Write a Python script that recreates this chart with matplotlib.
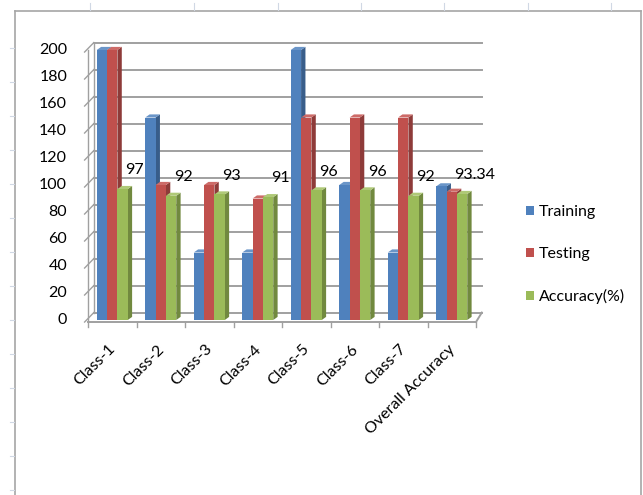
import matplotlib.pyplot as plt
from matplotlib.patches import Polygon, Patch
from matplotlib.lines import Line2D
import numpy as np

# chart values
categories = ["Class-1", "Class-2", "Class-3", "Class-4", "Class-5", "Class-6", "Class-7", "Overall Accuracy"]
training = [200, 150, 50, 50, 200, 100, 50, 99]
testing = [200, 100, 100, 90, 150, 150, 150, 95]
accuracy = [97, 92, 93, 91, 96, 96, 92, 93.34]
acc_labels = ["97", "92", "93", "91", "96", "96", "92", "93.34"]
series_names = ["Training", "Testing", "Accuracy(%)"]
yticks = list(range(0, 201, 20))

plt.rcParams['font.family'] = ['Lato', 'DejaVu Sans']
FS = 11.5

front = ["#4F81BD", "#C0504D", "#9BBB59"]
side = ["#385D8A", "#8E3B39", "#71893F"]
top = ["#6A95C8", "#CD6B68", "#AFC977"]
grid_c = "#A0A0A0"

fig = plt.figure(figsize=(6.43, 4.95), dpi=100)
ax = fig.add_axes([88/643, 1 - 320/495, 388/643, 270/495])
ax.set_xlim(0, len(categories))
ax.set_ylim(0, 200)
ax.axis('off')

# 3d offsets (data units)
wdx, wdy = 0.12, 5.5     # back wall
bdx, bdy = 0.09, 2.3     # bar depth
bw = 0.213

n = len(categories)
# back wall gridlines and left wall ticks
for v in yticks:
    ax.plot([wdx, n + wdx], [v + wdy, v + wdy], color=grid_c, lw=1.4, clip_on=False, zorder=1)
    ax.plot([-0.07, wdx], [v - 1.5, v + wdy], color=grid_c, lw=1.0, clip_on=False, zorder=1)
ax.plot([wdx, wdx], [wdy, 200 + wdy], color=grid_c, lw=1.0, clip_on=False, zorder=1)
ax.plot([0, 0], [0, 200], color=grid_c, lw=1.0, clip_on=False, zorder=1)
# floor
ax.plot([0, n], [-1.5, -1.5], color=grid_c, lw=1.4, clip_on=False, zorder=1)
ax.plot([n, n + wdx], [-1.5, wdy], color=grid_c, lw=1.4, clip_on=False, zorder=1)
for i in range(n + 1):
    ax.plot([i, i], [-1.5, -5], color=grid_c, lw=1.0, clip_on=False, zorder=1)

# 3d columns
all_series = [training, testing, accuracy]
z = 3
for i in range(n):
    x0 = i + 0.5 - 1.5 * bw
    for s, vals in enumerate(all_series):
        v = vals[i]
        xl = x0 + s * bw
        xr = xl + bw
        ax.add_patch(Polygon([(xr, 0), (xr + bdx, bdy), (xr + bdx, v + bdy), (xr, v)],
                             closed=True, facecolor=side[s], edgecolor='none', zorder=z, clip_on=False))
        ax.add_patch(Polygon([(xl, v), (xl + bdx, v + bdy), (xr + bdx, v + bdy), (xr, v)],
                             closed=True, facecolor=top[s], edgecolor='none', zorder=z, clip_on=False))
        ax.bar(xl, v, width=bw, align='edge', color=front[s], edgecolor='none', zorder=z + 0.5, clip_on=False)
        z += 1
    # accuracy value label
    ax.text(x0 + 2.5 * bw + 0.25, accuracy[i] + 14, acc_labels[i], fontsize=FS,
            ha='center', va='center', zorder=100, clip_on=False)

# y tick labels
for v in yticks:
    ax.text(-0.43, v, str(v), fontsize=FS, ha='right', va='center', clip_on=False)

# x category labels
for i, c in enumerate(categories):
    ax.text(i + 0.52, -20, c, fontsize=FS, rotation=45, rotation_mode='anchor',
            ha='right', va='center', clip_on=False)

# legend
handles = [Patch(facecolor=front[s], edgecolor='none') for s in range(3)]
fig.legend(handles, series_names, loc='upper left', bbox_to_anchor=(526/643, 1 - 205/495),
           frameon=False, fontsize=FS, handlelength=0.5, handleheight=0.5,
           handletextpad=0.3, labelspacing=1.75, borderpad=0, borderaxespad=0)

# chart frame and faint sheet ticks outside it
fr = "#A6A6A6"
fig.add_artist(Line2D([15/643, 15/643], [0, 1 - 11/495], color=fr, lw=1.2))
fig.add_artist(Line2D([15/643, 641/643], [1 - 11/495, 1 - 11/495], color=fr, lw=1.2))
fig.add_artist(Line2D([641/643, 641/643], [0, 1 - 11/495], color=fr, lw=1.2))
for xp in [90, 194, 278, 361, 444, 528, 611]:
    fig.add_artist(Line2D([xp/643, xp/643], [1 - 3/495, 1 - 10/495], color="#D0D8E4", lw=0.8))
for yp in np.arange(48, 495, 34):
    fig.add_artist(Line2D([10/643, 14/643], [1 - yp/495, 1 - yp/495], color="#D0D8E4", lw=0.8))

fig.savefig("out.png", dpi=100)
